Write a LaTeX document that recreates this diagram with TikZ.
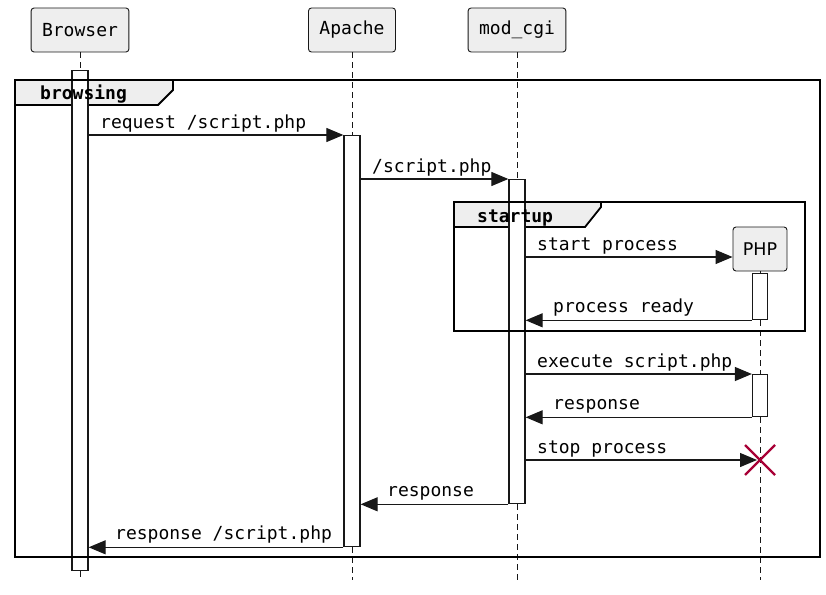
\documentclass[tikz,border=0pt]{standalone}
\usepackage{fontspec}
\setmonofont{DejaVu Sans Mono}
\setsansfont{DejaVu Sans}
\usepackage{xcolor}
\definecolor{seq-fill}{HTML}{EEEEEE}
\definecolor{seq-line}{HTML}{181818}
\definecolor{seq-red}{HTML}{A80036}
\usepackage{tikz}
\usetikzlibrary{arrows.meta}

\begin{document}
\begin{tikzpicture}[x=1pt,y=-1pt,
  font=\ttfamily\fontsize{18}{22}\selectfont,
  participant/.style={draw=seq-line, fill=seq-fill, rounded corners=3pt, line width=0.9pt,
    minimum height=44pt, inner xsep=11pt},
  actbar/.style={draw=seq-line, fill=white, line width=1.3pt, minimum width=16pt,
    inner sep=0pt, anchor=north},
  lifeline/.style={seq-line, line width=0.8pt, dash pattern=on 6pt off 4pt},
  msg/.style={seq-line, line width=1.2pt, -{Triangle[length=17pt,width=14pt]}},
  msglabel/.style={anchor=base west, inner sep=0pt},
  frameline/.style={black, line width=2.6pt},
  tabline/.style={black, line width=1.8pt, fill=seq-fill}]

  \useasboundingbox (0,0) rectangle (826,594);

  % Participants
  \node[participant] (browser) at (80,30) {Browser};
  \node[participant] (apache) at (352,30) {Apache};
  \node[participant] (cgi) at (517,30) {mod\_cgi};
  \node[participant, font=\sffamily\fontsize{17.5}{20}\selectfont, minimum width=54pt,
    inner xsep=0pt] (php) at (760,249) {PHP};

  % Group tabs
  \filldraw[tabline] (15,80) -- (173,80) -- (173,90) -- (158,105) -- (15,105) -- cycle;
  \filldraw[tabline] (454,202) -- (601,202) -- (601,207) -- (585,227) -- (454,227) -- cycle;

  % Activations
  \node[actbar, minimum height=500pt] (brAct) at (80,70) {};
  \node[actbar, minimum height=411pt] (apAct) at (352,135) {};
  \node[actbar, minimum height=324pt] (cgiAct) at (517,179) {};
  \node[actbar, minimum width=15pt, minimum height=46pt] (phpAct1) at (760,273) {};
  \node[actbar, minimum width=15pt, minimum height=42pt] (phpAct2) at (760,374) {};

  % Lifelines
  \coordinate (brEnd) at (80,580);
  \coordinate (apEnd) at (352,580);
  \coordinate (cgiEnd) at (517,580);
  \coordinate (phpEnd) at (760,580);
  \coordinate (kill) at (760,460);
  \draw[lifeline] (browser.south) -- (brAct.north);
  \draw[lifeline] (brAct.south) -- (brEnd);
  \draw[lifeline] (apache.south) -- (apAct.north);
  \draw[lifeline] (apAct.south) -- (apEnd);
  \draw[lifeline] (cgi.south) -- (cgiAct.north);
  \draw[lifeline] (cgiAct.south) -- (cgiEnd);
  \draw[lifeline] (php.south) -- (phpAct1.north);
  \draw[lifeline] (phpAct1.south) -- (phpAct2.north);
  \draw[lifeline] (phpAct2.south) -- (phpEnd);

  % Group frames
  \draw[frameline] (15,80) rectangle (820,557);
  \draw[frameline] (454,202) rectangle (805,331);
  \node[msglabel, font=\ttfamily\bfseries\fontsize{18}{22}\selectfont] (browsing) at (40,99) {browsing};
  \node[msglabel, font=\ttfamily\bfseries\fontsize{18}{22}\selectfont] (startup) at (477,222) {startup};

  % Messages
  \draw[msg] (brAct.east |- apAct.north) -- (apAct.north west);
  \node[msglabel] (m1) at (100,128) {request /script.php};

  \draw[msg] (apAct.east |- cgiAct.north) -- (cgiAct.north west);
  \node[msglabel] (m2) at (372,172) {/script.php};

  \draw[msg] (cgiAct.east |- 0,257) -- (php.west |- 0,257);
  \node[msglabel] (m3) at (537,250) {start process};

  \draw[msg] (phpAct1.south west) -- (cgiAct.east |- phpAct1.south);
  \node[msglabel] (m4) at (553,312) {process ready};

  \draw[msg] (cgiAct.east |- phpAct2.north) -- (phpAct2.north west);
  \node[msglabel] (m5) at (537,367) {execute script.php};

  \draw[msg] (phpAct2.south west) -- (cgiAct.east |- phpAct2.south);
  \node[msglabel] (m6) at (553,409) {response};

  \draw[msg, shorten >=3pt] (cgiAct.east |- kill) -- (kill);
  \node[msglabel] (m7) at (537,453) {stop process};

  \draw[msg] (cgiAct.south west) -- (apAct.east |- cgiAct.south);
  \node[msglabel] (m8) at (387,496) {response};

  \draw[msg] (apAct.south west) -- (brAct.east |- apAct.south);
  \node[msglabel] (m9) at (115,539) {response /script.php};

  % Destroy mark
  \draw[seq-red, line width=2.4pt] (kill) +(-15,-15) -- +(15,15) (kill) +(-15,15) -- +(15,-15);

\end{tikzpicture}
\end{document}
